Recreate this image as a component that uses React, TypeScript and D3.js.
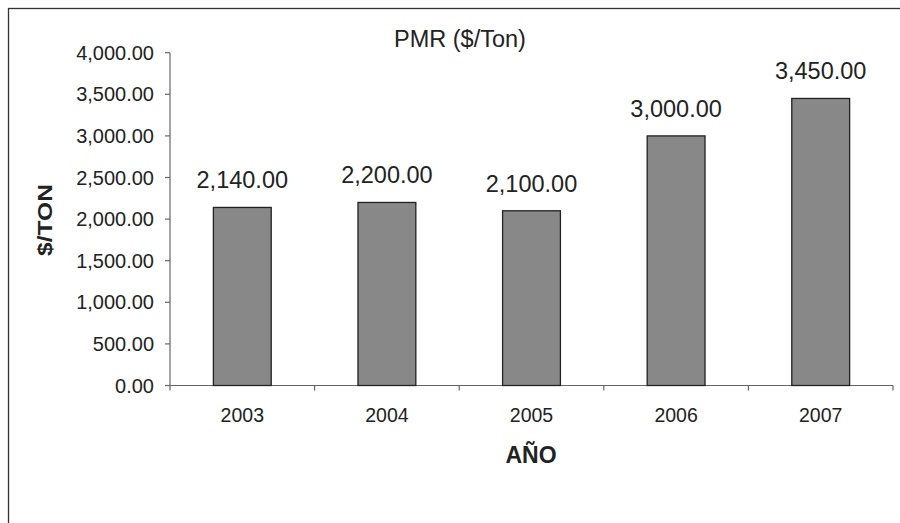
import { useEffect, useRef } from 'react'
import * as d3 from 'd3'

const years = ['2003', '2004', '2005', '2006', '2007']
const pmrValues = [2140, 2200, 2100, 3000, 3450]
const yTicks = [0, 500, 1000, 1500, 2000, 2500, 3000, 3500, 4000]

const chartTitle = 'PMR ($/Ton)'
const yTitle = '$/TON'
const xTitle = 'AÑO'

export default function App() {
  const svgRef = useRef<SVGSVGElement | null>(null)
  const width = 900
  const height = 523

  useEffect(() => {
    if (!svgRef.current) return
    const svg = d3.select(svgRef.current)
    svg.selectAll('*').remove()

    const font = '"Liberation Sans", Arial, sans-serif'
    const fmt = d3.format(',.2f')

    // frame (right/bottom edges run off the page)
    svg.append('rect')
      .attr('x', 8.5).attr('y', 8.5)
      .attr('width', 920).attr('height', 540)
      .attr('fill', '#fff')
      .attr('stroke', '#333')
      .attr('stroke-width', 1.3)

    const left = 170
    const right = 893
    const top = 52.7
    const bottom = 385.5

    const x = d3.scaleBand<string>().domain(years).range([left, right]).padding(0)
    const y = d3.scaleLinear().domain([0, 4000]).range([bottom, top])
    const barW = x.bandwidth() * 0.4

    svg.append('text')
      .attr('x', 460).attr('y', 47)
      .attr('text-anchor', 'middle')
      .attr('font-family', font).attr('font-size', 23.5)
      .attr('fill', '#222')
      .text(chartTitle)

    // y axis
    const yAxis = svg.append('g')
    yAxis.append('line')
      .attr('x1', left).attr('x2', left)
      .attr('y1', y(4000)).attr('y2', y(0))
      .attr('stroke', '#666').attr('stroke-width', 1.2)
    yAxis.selectAll('.yt')
      .data(yTicks)
      .join('line')
      .attr('x1', left - 5).attr('x2', left)
      .attr('y1', d => y(d)).attr('y2', d => y(d))
      .attr('stroke', '#666').attr('stroke-width', 1.2)
    yAxis.selectAll('text')
      .data(yTicks)
      .join('text')
      .attr('x', 154).attr('y', d => y(d))
      .attr('dy', '0.35em')
      .attr('text-anchor', 'end')
      .attr('font-family', font).attr('font-size', 20)
      .attr('fill', '#222')
      .text(d => fmt(d))

    // x axis
    const xAxis = svg.append('g')
    xAxis.append('line')
      .attr('x1', left).attr('x2', right)
      .attr('y1', bottom).attr('y2', bottom)
      .attr('stroke', '#666').attr('stroke-width', 1.2)
    const tickPos = years.map(d => x(d) ?? 0).concat([right])
    xAxis.selectAll('.xt')
      .data(tickPos)
      .join('line')
      .attr('x1', d => d).attr('x2', d => d)
      .attr('y1', bottom).attr('y2', bottom + 5)
      .attr('stroke', '#666').attr('stroke-width', 1.2)
    xAxis.selectAll('text')
      .data(years)
      .join('text')
      .attr('x', d => (x(d) ?? 0) + x.bandwidth() / 2)
      .attr('y', 422)
      .attr('text-anchor', 'middle')
      .attr('font-family', font).attr('font-size', 19.5)
      .attr('fill', '#222')
      .text(d => d)

    // bars
    const data = years.map((yr, i) => ({ yr, v: pmrValues[i] }))
    svg.selectAll('.bar')
      .data(data)
      .join('rect')
      .attr('class', 'bar')
      .attr('x', d => (x(d.yr) ?? 0) + (x.bandwidth() - barW) / 2)
      .attr('y', d => y(d.v))
      .attr('width', barW)
      .attr('height', d => bottom - y(d.v))
      .attr('fill', '#888888')
      .attr('stroke', '#222')
      .attr('stroke-width', 1.3)

    svg.selectAll('.lbl')
      .data(data)
      .join('text')
      .attr('class', 'lbl')
      .attr('x', d => (x(d.yr) ?? 0) + x.bandwidth() / 2)
      .attr('y', d => y(d.v) - 19)
      .attr('text-anchor', 'middle')
      .attr('font-family', font).attr('font-size', 23.5)
      .attr('fill', '#222')
      .text(d => fmt(d.v))

    // axis titles
    svg.append('text')
      .attr('transform', 'translate(52,220) rotate(-90)')
      .attr('text-anchor', 'middle')
      .attr('font-family', font).attr('font-size', 20)
      .attr('font-weight', 'bold')
      .attr('textLength', 72)
      .attr('lengthAdjust', 'spacingAndGlyphs')
      .attr('fill', '#222')
      .text(yTitle)

    svg.append('text')
      .attr('x', 531).attr('y', 463)
      .attr('text-anchor', 'middle')
      .attr('font-family', font).attr('font-size', 23)
      .attr('font-weight', 'bold')
      .attr('fill', '#222')
      .text(xTitle)
  }, [])

  return (
    <svg
      ref={svgRef}
      width={width}
      height={height}
      style={{ position: 'absolute', left: 0, top: 0, display: 'block' }}
    />
  )
}
